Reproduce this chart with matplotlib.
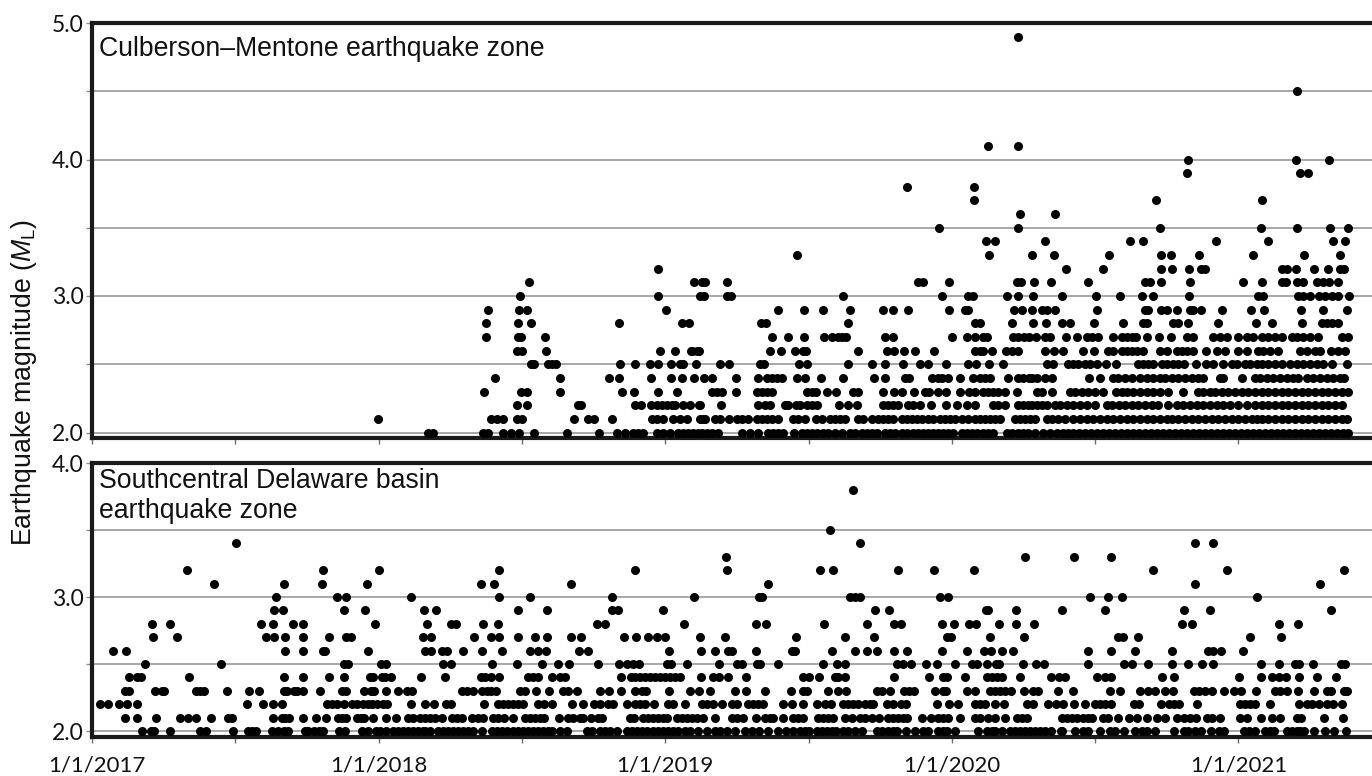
import matplotlib
matplotlib.use("Agg")
import matplotlib.pyplot as plt
from matplotlib.transforms import ScaledTranslation

# Event times: offset from 1/1/2017 on the chart's time scale (UNITS_PER_YEAR units = 1 year)
UNITS_PER_YEAR = 286.6
YEAR_LABELS = ["1/1/2017", "1/1/2018", "1/1/2019", "1/1/2020", "1/1/2021"]

# Culberson-Mentone zone: one list per magnitude
C49 = [926]
C45 = [1205]
C41 = [896, 926]
C40 = [1096, 1204, 1237]
C39 = [1095, 1208, 1216]
C38 = [815, 882]
C37 = [882, 1064, 1170]
C36 = [928, 963]
C35 = [847, 926, 1068, 1169, 1205, 1238, 1256]
C34 = [894, 903, 953, 1038, 1051, 1124, 1176, 1241, 1253]
C33 = [705, 897, 940, 962, 1017, 1069, 1079, 1107, 1161, 1212, 1248]
C32 = [566, 974, 1011, 1069, 1080, 1097, 1109, 1113, 1190, 1195, 1204, 1222, 1236, 1248, 1252]
C31 = [437, 602, 610, 613, 635, 826, 831, 857, 925, 929, 942, 959, 996, 1053, 1058, 1069, 1098,
       1151, 1170, 1190, 1194, 1205, 1211, 1225, 1231, 1237, 1246]
C30 = [428, 566, 608, 612, 635, 639, 751, 850, 876, 881, 915, 926, 941, 970, 1004, 1028, 1050, 1061,
       1097, 1166, 1171, 1206, 1211, 1218, 1227, 1233, 1240, 1246, 1257]
C29 = [396, 427, 435, 574, 686, 712, 731, 758, 791, 801, 816, 857, 873, 876, 922, 930, 940, 950, 955,
       963, 1005, 1053, 1056, 1069, 1075, 1085, 1098, 1101, 1109, 1130, 1159, 1172, 1209, 1231, 1255]
C28 = [394, 426, 439, 527, 590, 597, 669, 674, 756, 883, 888, 920, 941, 954, 970, 978, 1002, 1031, 1051,
       1055, 1081, 1086, 1096, 1126, 1164, 1180, 1210, 1230, 1235, 1240, 1246]
C27 = [394, 426, 429, 453, 680, 696, 712, 732, 740, 746, 750, 754, 793, 801, 860, 875, 883, 891, 895,
       921, 926, 932, 937, 944, 953, 958, 974, 985, 995, 1000, 1006, 1021, 1030, 1035, 1040, 1044, 1055,
       1067, 1079, 1095, 1101, 1121, 1128, 1135, 1146, 1155, 1161, 1170, 1176, 1183, 1190, 1200, 1205,
       1211, 1218, 1226, 1250, 1256]
C26 = [425, 430, 454, 568, 583, 599, 605, 600, 607, 678, 689, 703, 711, 714, 766, 795, 802, 812, 823, 842,
       883, 888, 891, 900, 914, 920, 926, 953, 962, 971, 991, 1002, 1016, 1021, 1030, 1035, 1040, 1045,
       1051, 1068, 1075, 1085, 1090, 1095, 1101, 1114, 1125, 1133, 1146, 1155, 1166, 1171, 1178, 1186,
       1208, 1215, 1223, 1228, 1239, 1246, 1253]
C25 = [439, 442, 456, 460, 464, 528, 543, 558, 566, 579, 588, 591, 604, 628, 637, 668, 672, 707, 715,
       756, 780, 793, 811, 828, 836, 854, 876, 884, 897, 911, 955, 961, 976, 981, 986, 993, 998, 1005,
       1014, 1024, 1046, 1051, 1056, 1061, 1070, 1075, 1081, 1086, 1092, 1104, 1114, 1121, 1131, 1140,
       1145, 1153, 1158, 1165, 1170, 1176, 1183, 1190, 1198, 1205, 1211, 1218, 1225, 1231, 1240, 1255]
C24 = [403, 468, 517, 527, 559, 579, 590, 602, 612, 620, 644, 666, 675, 680, 685, 690, 705, 713, 729,
       751, 782, 793, 813, 817, 840, 846, 850, 856, 868, 881, 888, 893, 898, 916, 926, 931, 937, 940,
       945, 953, 960, 997, 1008, 1021, 1026, 1033, 1040, 1048, 1055, 1061, 1068, 1073, 1080, 1086, 1093,
       1100, 1106, 1111, 1128, 1131, 1150, 1163, 1168, 1175, 1181, 1188, 1195, 1201, 1206, 1215, 1221,
       1228, 1235, 1241, 1248, 1252]
C23 = [392, 429, 435, 468, 530, 542, 566, 585, 620, 625, 630, 644, 665, 670, 675, 680, 715, 720, 724,
       735, 744, 761, 766, 791, 802, 810, 822, 833, 837, 846, 854, 868, 877, 883, 891, 896, 901, 906,
       913, 925, 945, 950, 960, 978, 983, 990, 996, 1003, 1011, 1024, 1030, 1035, 1041, 1048, 1055, 1061,
       1068, 1076, 1091, 1106, 1111, 1118, 1123, 1130, 1136, 1143, 1150, 1156, 1163, 1170, 1176, 1183,
       1190, 1196, 1203, 1210, 1216, 1223, 1230, 1236, 1243, 1250, 1256]
C22 = [425, 435, 486, 489, 543, 549, 559, 565, 570, 575, 580, 583, 591, 598, 607, 608, 629, 666, 673,
       678, 693, 696, 704, 708, 715, 720, 725, 747, 756, 765, 791, 796, 801, 806, 816, 821, 828, 839, 854,
       865, 875, 883, 901, 906, 913, 926, 931, 936, 940, 945, 950, 955, 963, 968, 975, 981, 988, 995,
       1003, 1015, 1020, 1027, 1033, 1040, 1046, 1053, 1060, 1066, 1076, 1085, 1091, 1098, 1105, 1111,
       1118, 1125, 1131, 1138, 1146, 1155, 1163, 1170, 1176, 1183, 1190, 1196, 1203, 1210, 1216, 1223,
       1230, 1236, 1243, 1250]
C21 = [286, 399, 405, 411, 425, 430, 482, 496, 502, 520, 560, 565, 571, 581, 588, 595, 608, 611, 613,
       623, 628, 637, 645, 650, 656, 665, 670, 675, 680, 686, 701, 706, 713, 724, 730, 738, 743, 748,
       753, 766, 771, 780, 786, 791, 796, 801, 810, 815, 820, 825, 830, 836, 841, 848, 853, 858, 863,
       870, 876, 883, 888, 893, 898, 903, 908, 923, 928, 933, 938, 943, 955, 960, 966, 973, 981, 988,
       995, 1001, 1008, 1015, 1021, 1028, 1035, 1041, 1048, 1055, 1061, 1068, 1075, 1080, 1086, 1093,
       1100, 1106, 1113, 1120, 1126, 1133, 1140, 1146, 1153, 1160, 1165, 1170, 1176, 1183, 1190, 1196,
       1203, 1210, 1216, 1223, 1230, 1236, 1243, 1250, 1255]
C20 = [336, 341, 391, 396, 411, 419, 427, 442, 475, 507, 525, 533, 541, 546, 551, 565, 571, 578, 586,
       591, 596, 601, 606, 610, 615, 620, 626, 650, 658, 666, 676, 681, 686, 691, 702, 710, 715, 720,
       725, 731, 736, 743, 750, 758, 763, 770, 775, 780, 785, 793, 798, 803, 810, 815, 821, 826, 831,
       836, 841, 846, 851, 856, 861, 870, 875, 880, 885, 891, 896, 901, 915, 920, 926, 931, 936, 943,
       951, 958, 965, 971, 976, 981, 987, 993, 999, 1005, 1011, 1017, 1023, 1029, 1035, 1041, 1047, 1053,
       1059, 1065, 1071, 1077, 1083, 1089, 1095, 1101, 1107, 1113, 1119, 1125, 1131, 1137, 1143, 1149,
       1155, 1161, 1167, 1173, 1179, 1185, 1191, 1197, 1203, 1209, 1215, 1221, 1227, 1233, 1239, 1245,
       1251, 1256]

# Southcentral Delaware basin zone: one list per magnitude
S38 = [761]
S35 = [738]
S34 = [144, 768, 1103, 1121]
S33 = [634, 933, 982, 1019]
S32 = [95, 231, 287, 407, 543, 635, 728, 741, 806, 842, 882, 1061, 1135, 1252]
S31 = [122, 192, 230, 275, 389, 402, 479, 676, 1103, 1228]
S30 = [184, 245, 254, 319, 407, 438, 520, 602, 667, 670, 758, 763, 768, 848, 856, 998, 1016, 1030, 1165]
S29 = [182, 191, 252, 273, 332, 344, 426, 455, 520, 526, 571, 783, 797, 894, 896, 924, 970, 1013, 1092,
       1118, 1239]
S28 = [60, 78, 169, 181, 201, 211, 283, 335, 359, 364, 391, 406, 505, 513, 592, 664, 674, 732, 775, 802,
       809, 850, 862, 877, 884, 907, 924, 942, 1090, 1100, 1187, 1206]
S27 = [61, 85, 174, 182, 193, 211, 237, 254, 259, 331, 339, 382, 399, 407, 426, 443, 455, 479, 489, 532,
       544, 556, 565, 573, 608, 633, 704, 753, 782, 855, 859, 898, 932, 1026, 1031, 1046, 1158, 1189]
S26 = [21, 34, 193, 211, 231, 233, 276, 333, 339, 350, 355, 371, 390, 410, 438, 446, 454, 487, 496, 577,
       609, 623, 636, 640, 664, 700, 703, 740, 763, 775, 785, 802, 815, 850, 875, 892, 899, 910, 921,
       996, 1019, 1043, 1080, 1116, 1121, 1129, 1151]
S25 = [53, 129, 252, 256, 289, 294, 351, 359, 400, 425, 450, 466, 477, 506, 527, 535, 541, 547, 575, 579,
       595, 627, 645, 650, 665, 668, 686, 731, 745, 753, 805, 811, 819, 834, 845, 863, 880, 885, 895, 904,
       907, 931, 944, 952, 996, 1032, 1040, 1056, 1080, 1096, 1110, 1121, 1169, 1187, 1203, 1207, 1221,
       1249, 1253]
S24 = [37, 45, 49, 97, 192, 211, 237, 252, 278, 281, 290, 293, 299, 329, 353, 389, 393, 399, 407, 436,
       441, 446, 460, 468, 473, 529, 539, 543, 548, 553, 558, 563, 568, 573, 578, 583, 588, 609, 621, 627,
       636, 654, 711, 717, 727, 743, 746, 753, 802, 837, 851, 855, 873, 895, 900, 905, 910, 928, 959, 967,
       973, 1005, 1013, 1019, 1070, 1082, 1147, 1169, 1180, 1187, 1194, 1207, 1225, 1244]
S23 = [33, 37, 63, 70, 72, 104, 108, 112, 135, 157, 167, 192, 195, 202, 205, 211, 228, 250, 254, 272, 279,
       282, 294, 306, 315, 320, 370, 375, 381, 390, 395, 399, 404, 428, 433, 444, 457, 471, 476, 485, 508,
       517, 529, 543, 550, 554, 577, 598, 607, 618, 643, 654, 673, 699, 711, 715, 736, 746, 754, 785, 790,
       798, 812, 817, 822, 843, 851, 854, 875, 883, 898, 903, 908, 913, 919, 932, 941, 946, 966, 981, 1018,
       1028, 1048, 1056, 1063, 1073, 1081, 1102, 1107, 1113, 1120, 1132, 1142, 1149, 1164, 1183, 1188,
       1195, 1206, 1222, 1235, 1239, 1252, 1255]
S22 = [8, 16, 27, 35, 45, 155, 171, 181, 190, 235, 240, 245, 252, 260, 265, 271, 276, 280, 285, 291, 295,
       319, 333, 342, 354, 359, 392, 406, 411, 416, 421, 426, 431, 446, 452, 460, 480, 491, 502, 508, 516,
       521, 535, 543, 548, 553, 562, 576, 581, 593, 610, 615, 621, 630, 640, 645, 656, 661, 666, 671, 691,
       700, 711, 725, 733, 739, 751, 756, 761, 766, 773, 778, 781, 795, 801, 809, 814, 845, 857, 866, 883,
       888, 893, 903, 912, 935, 941, 956, 964, 971, 982, 993, 1003, 1008, 1013, 1019, 1042, 1047, 1069,
       1077, 1082, 1087, 1105, 1148, 1153, 1158, 1163, 1178, 1207, 1215, 1220, 1227, 1235, 1241, 1250]
S21 = [33, 45, 64, 88, 96, 104, 119, 136, 140, 181, 190, 193, 197, 211, 224, 234, 246, 250, 254, 265, 269,
       272, 281, 294, 304, 316, 321, 328, 333, 338, 343, 350, 360, 365, 370, 380, 386, 391, 401, 406, 412,
       421, 433, 438, 443, 448, 452, 467, 476, 481, 488, 491, 499, 506, 510, 538, 542, 551, 556, 561, 566,
       571, 575, 585, 590, 595, 600, 605, 611, 623, 640, 645, 651, 664, 673, 678, 681, 691, 701, 706, 711,
       726, 731, 736, 741, 753, 760, 768, 773, 780, 787, 796, 801, 806, 811, 815, 830, 839, 846, 851, 856,
       868, 883, 888, 896, 903, 913, 925, 930, 935, 970, 975, 980, 985, 991, 996, 1000, 1011, 1016, 1026,
       1037, 1045, 1055, 1065, 1073, 1085, 1092, 1098, 1104, 1115, 1120, 1128, 1148, 1155, 1169, 1180,
       1188, 1205, 1209, 1232, 1251]
S20 = [50, 59, 62, 78, 108, 114, 141, 156, 160, 164, 180, 186, 192, 196, 213, 216, 222, 227, 231, 247, 253,
       270, 276, 284, 288, 294, 301, 306, 311, 316, 321, 326, 331, 333, 338, 346, 351, 356, 361, 366, 371,
       376, 381, 390, 400, 405, 410, 415, 421, 426, 431, 436, 441, 446, 451, 456, 460, 468, 475, 495, 500,
       508, 513, 518, 525, 535, 540, 545, 550, 555, 561, 566, 571, 576, 581, 586, 593, 598, 606, 615, 623,
       628, 635, 643, 653, 660, 667, 676, 686, 694, 701, 708, 713, 717, 725, 730, 735, 740, 744, 751, 756,
       763, 770, 785, 790, 796, 801, 805, 814, 823, 831, 836, 846, 851, 855, 863, 886, 895, 900, 903, 910,
       918, 923, 928, 933, 938, 943, 948, 953, 959, 969, 970, 983, 991, 996, 1008, 1018, 1023, 1032, 1043,
       1050, 1055, 1063, 1082, 1092, 1096, 1103, 1109, 1119, 1127, 1132, 1152, 1157, 1163, 1173, 1178, 1182,
       1195, 1200, 1205, 1208, 1212, 1222, 1233, 1242, 1254]

CULBERSON = {4.9: C49, 4.5: C45, 4.1: C41, 4.0: C40, 3.9: C39, 3.8: C38, 3.7: C37, 3.6: C36, 3.5: C35,
             3.4: C34, 3.3: C33, 3.2: C32, 3.1: C31, 3.0: C30, 2.9: C29, 2.8: C28, 2.7: C27, 2.6: C26,
             2.5: C25, 2.4: C24, 2.3: C23, 2.2: C22, 2.1: C21, 2.0: C20}
DELAWARE = {3.8: S38, 3.5: S35, 3.4: S34, 3.3: S33, 3.2: S32, 3.1: S31, 3.0: S30, 2.9: S29, 2.8: S28,
            2.7: S27, 2.6: S26, 2.5: S25, 2.4: S24, 2.3: S23, 2.2: S22, 2.1: S21, 2.0: S20}

plt.rcParams["font.family"] = ["Lato", "DejaVu Sans"]
plt.rcParams["mathtext.fontset"] = "custom"
plt.rcParams["mathtext.rm"] = "Liberation Sans"
plt.rcParams["mathtext.it"] = "Liberation Sans:italic"

W, H = 1372, 776
fig = plt.figure(figsize=(W / 100, H / 100), dpi=100)


def panel(top, bottom, ylim, data, major, minor, text, text_y):
    ax = fig.add_axes([92 / W, 1 - bottom / H, (W - 92) / W, (bottom - top) / H])
    ax.set_xlim(0, W - 92)
    ax.set_ylim(*ylim)
    for v in major + minor:
        ax.axhline(v, color="#8f8f8f", lw=1.1, zorder=1)
    for mag, times in data.items():
        ax.plot(times, [mag] * len(times), "o", color="black", ms=6.5, mew=0,
                clip_on=False, zorder=3)
    ax.spines["right"].set_visible(False)
    for s in ("left", "top", "bottom"):
        ax.spines[s].set_linewidth(3.0)
        ax.spines[s].set_color("#1a1a1a")
        ax.spines[s].set_zorder(2)
    ax.set_yticks(major)
    ax.set_yticklabels([f"{v:.1f}" for v in major], fontsize=16.5, color="#111111")
    ax.set_yticks(minor, minor=True)
    ax.tick_params(axis="y", which="both", length=4.5, width=1.0, color="#8f8f8f", pad=1.5)
    ax.set_xticks([UNITS_PER_YEAR * i / 2 for i in range(9)])
    ax.tick_params(axis="x", length=4.5, width=1.0, color="#6f6f6f")
    ax.text(7 / (W - 92), 1 - text_y / (bottom - top), text, transform=ax.transAxes,
            family="Liberation Sans", fontsize=19.2, va="top", linespacing=1.19, color="#111111")
    return ax


ax1 = panel(23, 438, (5 - 415 / 136.5, 5.0), CULBERSON, [2.0, 3.0, 4.0, 5.0], [2.5, 3.5, 4.5],
            "Culberson\u2013Mentone earthquake zone", 13)
ax1.set_xticklabels([])
ax2 = panel(463, 737, (2 - 6 / 134, 4.0), DELAWARE, [2.0, 3.0, 4.0], [2.5, 3.5],
            "Southcentral Delaware basin\nearthquake zone", 5)
ax2.set_xticks([UNITS_PER_YEAR * i for i in range(5)], YEAR_LABELS, fontsize=16, color="#111111")
ax2.set_xticks([UNITS_PER_YEAR * (i + 0.5) for i in range(4)], minor=True)
ax2.tick_params(axis="x", which="both", length=4.5, width=1.0, color="#6f6f6f", pad=9)
first = ax2.get_xticklabels()[0]
first.set_transform(first.get_transform() + ScaledTranslation(5 / 100, 0, fig.dpi_scale_trans))

fig.text(24 / W, 1 - 383 / H, r"Earthquake magnitude ($M_{\mathrm{L}}$)", rotation=90,
         family="Liberation Sans", fontsize=19.2, ha="center", va="center", color="#111111")

fig.savefig("out.png", dpi=100)
